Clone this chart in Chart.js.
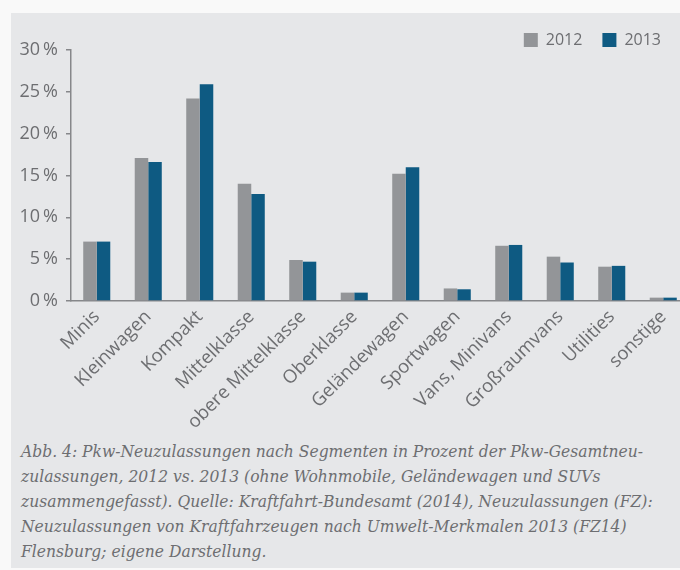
<!DOCTYPE html>
<html lang="de">
<head>
    <meta charset="UTF-8">
    <title>Pkw-Neuzulassungen nach Segmenten</title>
    <script src="https://cdn.jsdelivr.net/npm/chart.js"></script>
    <style>
        html, body {
            margin: 0;
            padding: 0;
            width: 680px;
            height: 570px;
            overflow: hidden;
            background: #f9f9f9;
        }
        .panel {
            position: absolute;
            left: 11px;
            top: 13px;
            width: 680px;
            height: 555px;
            background: #e6e7e9;
        }
        .chart-box {
            position: absolute;
            left: 0;
            top: 0;
            width: 700px;
            height: 430px;
        }
        .caption {
            position: absolute;
            left: 21px;
            top: 439px;
            font-family: "DejaVu Serif Condensed", "DejaVu Serif", serif;
            font-stretch: condensed;
            font-style: italic;
            font-size: 17.3px;
            line-height: 25px;
            color: #6d6e71;
            white-space: nowrap;
        }
    </style>
</head>
<body>
    <div class="panel"></div>
    <div class="chart-box"><canvas id="chart"></canvas></div>
    <div class="caption">
        Abb. 4: Pkw-Neuzulassungen nach Segmenten in Prozent der Pkw-Gesamtneu-<br>
        zulassungen, 2012 vs. 2013 (ohne Wohnmobile, Geländewagen und SUVs<br>
        zusammengefasst). Quelle: Kraftfahrt-Bundesamt (2014), Neuzulassungen (FZ):<br>
        Neuzulassungen von Kraftfahrzeugen nach Umwelt-Merkmalen 2013 (FZ14)<br>
        Flensburg; eigene Darstellung.
    </div>

    <script>
        const segments = ['Minis', 'Kleinwagen', 'Kompakt', 'Mittelklasse', 'obere Mittelklasse',
            'Oberklasse', 'Geländewagen', 'Sportwagen', 'Vans, Minivans', 'Großraumvans',
            'Utilities', 'sonstige'];
        const share2012 = [7.1, 17.1, 24.2, 14.0, 4.9, 1.0, 15.2, 1.5, 6.6, 5.3, 4.1, 0.4];
        const share2013 = [7.1, 16.6, 25.9, 12.8, 4.7, 1.0, 16.0, 1.4, 6.7, 4.6, 4.2, 0.4];
        const yearLabels = ['2012', '2013'];

        const textColor = '#6d6e71';
        const axisColor = '#86878a';

        // legend sits tight above the plot, so its box height is trimmed
        const legendFix = {
            id: 'legendFix',
            beforeInit(chart) {
                const fit = chart.legend.fit;
                chart.legend.fit = function () {
                    fit.call(this);
                    this.height = 38;
                };
            },
            afterLayout(chart) {
                chart.legend.left -= 8;
                chart.legend.right -= 8;
            }
        };

        new Chart(document.getElementById('chart'), {
            type: 'bar',
            data: {
                labels: segments,
                datasets: [{
                    label: yearLabels[0],
                    data: share2012,
                    backgroundColor: '#939598'
                }, {
                    label: yearLabels[1],
                    data: share2013,
                    backgroundColor: '#0e5a82'
                }]
            },
            options: {
                responsive: true,
                maintainAspectRatio: false,
                animation: false,
                layout: { padding: { top: 12, right: 11, bottom: 0, left: 0 } },
                datasets: {
                    bar: { categoryPercentage: 0.525, barPercentage: 1.0 }
                },
                plugins: {
                    legend: {
                        position: 'top',
                        align: 'end',
                        labels: {
                            boxWidth: 14,
                            boxHeight: 14,
                            padding: 20,
                            color: textColor,
                            font: { family: 'Open Sans', size: 16 }
                        }
                    },
                    tooltip: { enabled: false }
                },
                scales: {
                    x: {
                        grid: { display: false },
                        border: { color: axisColor, width: 1.5 },
                        ticks: {
                            color: textColor,
                            font: { family: 'Open Sans', size: 18.5 },
                            minRotation: 45,
                            maxRotation: 45,
                            padding: -3
                        },
                        afterFit(scale) { scale.height = 129; }
                    },
                    y: {
                        min: 0,
                        max: 30,
                        grid: {
                            drawOnChartArea: false,
                            drawTicks: true,
                            tickLength: 5,
                            color: axisColor,
                            lineWidth: 1.5
                        },
                        border: { color: axisColor, width: 1.5 },
                        ticks: {
                            stepSize: 5,
                            padding: 8,
                            color: textColor,
                            font: { family: 'Open Sans', size: 18 },
                            callback: v => v + '\u2009%'
                        },
                        afterFit(scale) { scale.width = 71; }
                    }
                }
            },
            plugins: [legendFix]
        });
    </script>
</body>
</html>
